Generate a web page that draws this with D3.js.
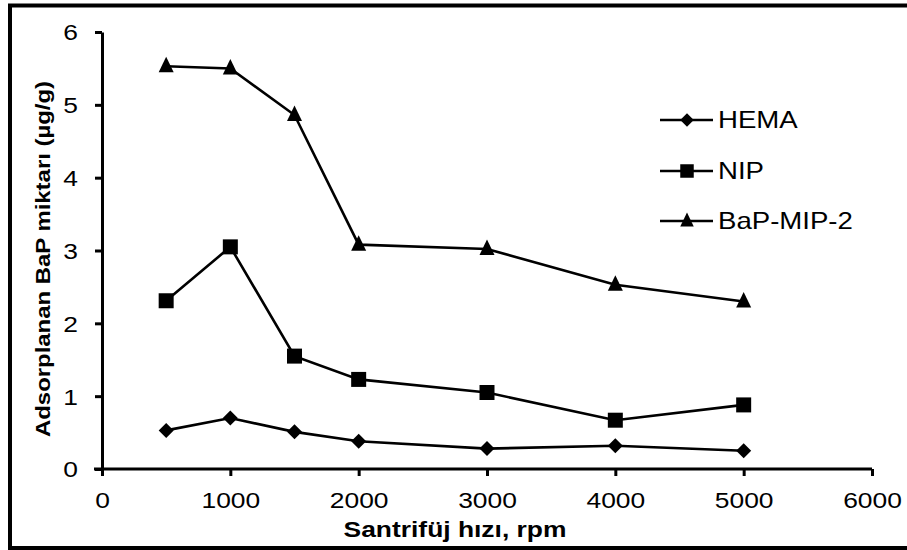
<!DOCTYPE html>
<html>
<head>
<meta charset="utf-8">
<script src="https://cdn.jsdelivr.net/npm/d3@7"></script>
<style>
  body { margin: 0; background: #fff; overflow: hidden; }
  svg { display: block; font-family: "Liberation Sans", Arial, sans-serif; }
</style>
</head>
<body>
<svg class="chart"></svg>
<script>
const speeds = [500, 1000, 1500, 2000, 3000, 4000, 5000];
const hema = [0.53, 0.70, 0.51, 0.38, 0.28, 0.32, 0.25];
const nip = [2.31, 3.05, 1.55, 1.23, 1.05, 0.67, 0.88];
const bapMip2 = [5.53, 5.50, 4.86, 3.08, 3.02, 2.53, 2.30];
const seriesNames = ['HEMA', 'NIP', 'BaP-MIP-2'];
const xTicks = [0, 1000, 2000, 3000, 4000, 5000, 6000];
const yTicks = [0, 1, 2, 3, 4, 5, 6];

const svg = d3.select('.chart')
	.attr('width', 907)
	.attr('height', 550);

const width = +svg.attr('width'),
	height = +svg.attr('height');

// outer frame (right side falls outside the picture)
svg.append('path')
	.attr('d', `M${width},5.5H10V${height - 2}H${width}`)
	.attr('fill', 'none')
	.attr('stroke', '#000')
	.attr('stroke-width', 4);

const margin = { top: 32, right: 35, bottom: 81, left: 102 };
const innerWidth = width - margin.left - margin.right;
const innerHeight = height - margin.top - margin.bottom;

const xScale = d3.scaleLinear().domain([0, 6000]).range([0, innerWidth]);
const yScale = d3.scaleLinear().domain([0, 6]).range([innerHeight, 0]);

const g = svg.append('g')
	.attr('transform', `translate(${margin.left}, ${margin.top})`);

const xAxis = d3.axisBottom(xScale)
	.tickValues(xTicks)
	.tickFormat(d3.format('d'))
	.tickSizeOuter(0)
	.tickSizeInner(7);

const yAxis = d3.axisLeft(yScale)
	.tickValues(yTicks)
	.tickFormat(d3.format('d'))
	.tickSizeOuter(0)
	.tickSizeInner(7);

// the picture is stretched a bit sideways, so texts get a horizontal scale
const stretch = 1.2;

const styleAxis = sel => {
	sel.selectAll('.domain').attr('stroke-width', 3);
	sel.selectAll('line').attr('stroke-width', 3);
	sel.selectAll('text')
		.style('font-size', '22px')
		.style('font-family', '"Liberation Sans", Arial, sans-serif')
		.attr('fill', '#000');
};

const yAxisG = g.append('g').call(yAxis).call(styleAxis);
yAxisG.selectAll('.tick text')
	.attr('x', 0)
	.attr('dy', '0.36em')
	.attr('transform', `translate(-24,0) scale(${stretch},1)`);

const xAxisG = g.append('g')
	.attr('transform', `translate(0, ${innerHeight})`)
	.call(xAxis)
	.call(styleAxis);
xAxisG.selectAll('.tick text')
	.attr('y', 0)
	.attr('dy', 0)
	.attr('transform', `translate(0,39) scale(${stretch},1)`);
// x axis extends a bit left past the y axis
xAxisG.select('.domain').attr('d', `M-8,0H${innerWidth}`);

// axis titles
svg.append('text')
	.attr('transform', `translate(455, 537) scale(${stretch},1)`)
	.attr('text-anchor', 'middle')
	.style('font-size', '22px')
	.attr('font-weight', 'bold')
	.text('Santrifüj hızı, rpm');

svg.append('text')
	.attr('transform', `translate(50, 259) rotate(-90)`)
	.attr('text-anchor', 'middle')
	.attr('textLength', 356)
	.attr('lengthAdjust', 'spacingAndGlyphs')
	.style('font-size', '20px')
	.attr('font-weight', 'bold')
	.text('Adsorplanan BaP miktarı (µg/g)');

const markerPaths = [
	'M0,-7.5L7.5,0L0,7.5L-7.5,0Z',
	'M-7.5,-7.5H7.5V7.5H-7.5Z',
	'M0,-9.5L7.5,6L-7.5,6Z'
];
const allSeries = [hema, nip, bapMip2];

const line = d3.line()
	.x((d, i) => xScale(speeds[i]))
	.y(d => yScale(d));

allSeries.forEach((values, k) => {
	g.append('path')
		.datum(values)
		.attr('fill', 'none')
		.attr('stroke', '#000')
		.attr('stroke-width', 2.6)
		.attr('d', line);

	g.selectAll(`.m${k}`)
		.data(values)
		.enter()
		.append('path')
			.attr('class', `m${k}`)
			.attr('transform', (d, i) => `translate(${xScale(speeds[i])}, ${yScale(d)})`)
			.attr('d', markerPaths[k])
			.attr('fill', '#000');
});

// legend
const legendY = [120, 171, 221];
const legend = svg.append('g');
seriesNames.forEach((name, k) => {
	const lg = legend.append('g')
		.attr('transform', `translate(660, ${legendY[k]})`);
	lg.append('line')
		.attr('x1', 0).attr('x2', 53)
		.attr('stroke', '#000')
		.attr('stroke-width', 2.6);
	lg.append('path')
		.attr('transform', 'translate(27,0) scale(0.9)')
		.attr('d', markerPaths[k])
		.attr('fill', '#000');
	lg.append('text')
		.attr('transform', `translate(58,0) scale(${stretch},1)`)
		.attr('dy', '0.36em')
		.style('font-size', '23px')
		.text(name);
});
</script>
</body>
</html>
